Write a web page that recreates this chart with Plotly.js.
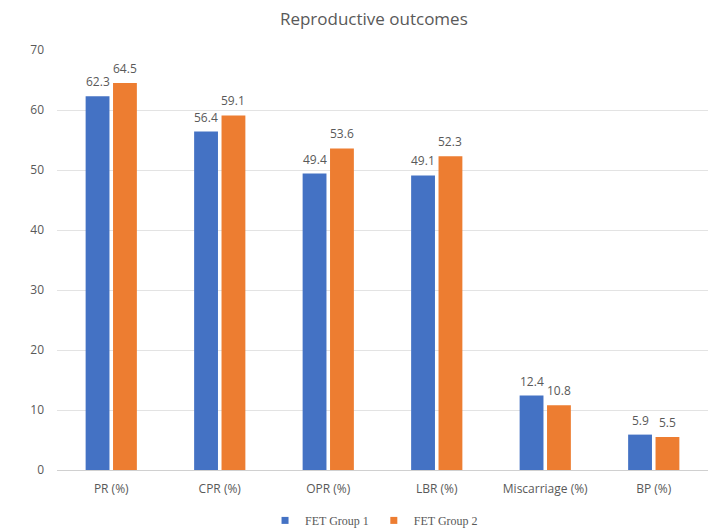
<!DOCTYPE html>
<html>
<head>
<meta charset="utf-8">
<script src="https://cdn.plot.ly/plotly-3.0.1.min.js"></script>
<style>
  html, body { margin: 0; padding: 0; background: #fff; }
  #chart { width: 708px; height: 530px; }
</style>
</head>
<body>
<div id="chart"></div>
<script>
// Reproductive outcome rates per frozen embryo transfer group
const categories = ["PR (%)", "CPR (%)", "OPR (%)", "LBR (%)", "Miscarriage (%)", "BP (%)"];
const group1 = [62.3, 56.4, 49.4, 49.1, 12.4, 5.9];
const group2 = [64.5, 59.1, 53.6, 52.3, 10.8, 5.5];
const seriesNames = ["FET Group 1", "FET Group 2"];
const seriesColors = ["#4472C4", "#ED7D31"];
const yTicks = [0, 10, 20, 30, 40, 50, 60, 70];

const labelFont = { family: "Open Sans, Liberation Sans, sans-serif", size: 12, color: "#595959" };

function barTrace(name, values, color) {
  return {
    type: "bar",
    name: name,
    x: categories,
    y: values,
    marker: { color: color },
    showlegend: false,
    hoverinfo: "x+y+name"
  };
}

// Small square legend keys, drawn as empty marker traces
function legendKey(name, color) {
  return {
    type: "scatter",
    mode: "markers",
    name: name,
    x: [categories[0]],
    y: [null],
    marker: { color: color, symbol: "square", size: 7 },
    showlegend: true,
    hoverinfo: "skip"
  };
}

const data = [
  barTrace(seriesNames[0], group1, seriesColors[0]),
  barTrace(seriesNames[1], group2, seriesColors[1]),
  legendKey(seriesNames[0], seriesColors[0]),
  legendKey(seriesNames[1], seriesColors[1])
];

// Value labels above each bar; the two bars of a group sit either side of the category centre
const slotShift = 13.7;
const annotations = [];
[group1, group2].forEach((values, s) => {
  values.forEach((v, i) => {
    annotations.push({
      x: categories[i],
      y: v,
      xref: "x",
      yref: "y",
      text: v.toFixed(1),
      showarrow: false,
      xanchor: "center",
      yanchor: "bottom",
      xshift: s === 0 ? -slotShift : slotShift,
      yshift: 4,
      font: labelFont
    });
  });
});

const layout = {
  width: 708,
  height: 530,
  margin: { l: 57, r: 0, t: 50, b: 60, autoexpand: false },
  paper_bgcolor: "#ffffff",
  plot_bgcolor: "#ffffff",
  title: {
    text: "Reproductive outcomes",
    font: { family: "Open Sans, Liberation Sans, sans-serif", size: 17, color: "#595959" },
    x: 0.528,
    xanchor: "center",
    y: 0.965,
    yanchor: "middle"
  },
  barmode: "group",
  bargap: 0.495,
  bargroupgap: 0.13,
  xaxis: {
    type: "category",
    showgrid: false,
    showline: false,
    zeroline: false,
    ticks: "",
    tickfont: labelFont,
    ticklabelstandoff: 10
  },
  yaxis: {
    range: [0, 70],
    tickvals: yTicks,
    ticktext: yTicks.map(String),
    showgrid: true,
    gridcolor: "#e3e3e3",
    gridwidth: 1,
    zeroline: true,
    zerolinecolor: "#d0d0d0",
    zerolinewidth: 1,
    showline: false,
    ticks: "",
    tickfont: labelFont,
    ticklabelstandoff: 12
  },
  annotations: annotations,
  showlegend: true,
  legend: {
    orientation: "h",
    x: 0.487,
    xanchor: "center",
    y: -0.12,
    yanchor: "middle",
    font: { family: "Liberation Serif, serif", size: 12, color: "#595959" },
    itemwidth: 30,
    traceorder: "normal"
  },
  font: labelFont
};

Plotly.newPlot("chart", data, layout, { displayModeBar: false, staticPlot: true });
</script>
</body>
</html>
